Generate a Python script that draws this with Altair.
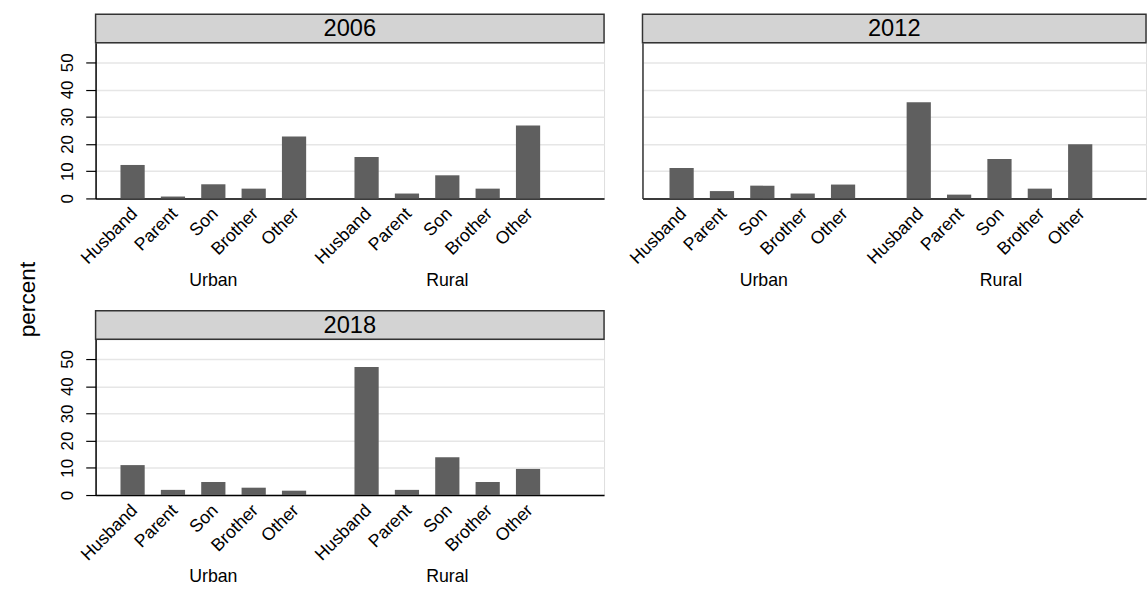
import altair as alt
import pandas as pd

years = ["2006", "2012", "2018"]
areas = ["Urban", "Rural"]
relations = ["Husband", "Parent", "Son", "Brother", "Other"]

pct_2006_urban = [12.3, 0.7, 5.2, 3.6, 22.8]
pct_2006_rural = [15.2, 1.8, 8.5, 3.6, 26.8]
pct_2012_urban = [11.2, 2.7, 4.7, 1.8, 5.1]
pct_2012_rural = [35.3, 1.4, 14.5, 3.6, 19.9]
pct_2018_urban = [11.0, 1.9, 4.8, 2.7, 1.6]
pct_2018_rural = [47.0, 1.9, 13.9, 4.8, 9.6]

series = {
    ("2006", "Urban"): pct_2006_urban,
    ("2006", "Rural"): pct_2006_rural,
    ("2012", "Urban"): pct_2012_urban,
    ("2012", "Rural"): pct_2012_rural,
    ("2018", "Urban"): pct_2018_urban,
    ("2018", "Rural"): pct_2018_rural,
}
rows = []
for yr in years:
    for ar in areas:
        for rel, v in zip(relations, series[(yr, ar)]):
            rows.append({"year": yr, "area": ar, "relation": rel, "percent": v})
df = pd.DataFrame(rows)

H, HEAD = 158, 29
FONT = "Liberation Sans"


def panel(yr, width, show_y, pad_in, pad_out, align):
    data = df[df["year"] == yr]
    x_enc = alt.X(
        "area:N", sort=areas,
        scale=alt.Scale(paddingInner=pad_in, paddingOuter=pad_out, align=align),
        axis=alt.Axis(title=None, labelAngle=0, ticks=False, labelPadding=74,
                      labelFontSize=18, grid=False,
                      domainColor="#000000", domainWidth=1.5),
    )
    xoff = alt.XOffset("relation:N", sort=relations,
                       scale=alt.Scale(paddingInner=0.4, paddingOuter=0.3))
    if show_y:
        yaxis = alt.Axis(title=None, values=[0, 10, 20, 30, 40, 50], labelAngle=-90,
                         labelAlign="center", labelBaseline="bottom", labelFontSize=17,
                         labelPadding=9, tickSize=10, tickColor="#000000", tickWidth=1.2,
                         domainColor="#000000", domainWidth=1.5,
                         gridColor="#e6e6e6", gridWidth=1.5)
    else:
        yaxis = alt.Axis(title=None, values=[0, 10, 20, 30, 40, 50], labels=False,
                         ticks=False, domainColor="#333333", domainWidth=1.5,
                         gridColor="#e6e6e6", gridWidth=1.5)
    y_enc = alt.Y("percent:Q", scale=alt.Scale(domain=[0, 57.2], nice=False), axis=yaxis)

    bars = alt.Chart(data).mark_bar(color="#5f5f5f").encode(x=x_enc, xOffset=xoff, y=y_enc)
    labels = alt.Chart(data).mark_text(
        angle=315, align="right", baseline="middle", fontSize=18, font=FONT,
        color="#000000", dx=0, dy=3
    ).encode(x=x_enc, xOffset=xoff, text="relation:N", y=alt.value(H + 11))
    head = pd.DataFrame({"year": [yr]})
    head_rect = alt.Chart(head).mark_rect(
        fill="#d3d3d3", stroke="#333333", strokeWidth=1.5
    ).encode(x=alt.value(0), x2=alt.value(width), y=alt.value(-HEAD), y2=alt.value(0))
    head_text = alt.Chart(head).mark_text(
        fontSize=24, font=FONT, color="#000000", baseline="middle", align="center"
    ).encode(x=alt.value(width / 2), y=alt.value(-HEAD / 2 + 1), text="year:N")
    return alt.layer(head_rect, head_text, bars, labels).properties(width=width, height=H)


p2006 = panel("2006", 516, True, 0.103, 0.138, 0.198)
p2012 = panel("2012", 511, False, 0.1026, 0.113, 0.278)
p2018 = panel("2018", 516, True, 0.103, 0.138, 0.198)

top = alt.hconcat(p2006, p2012, spacing=21)
chart = alt.vconcat(top, p2018, spacing=19).properties(
    title=alt.TitleParams("percent", orient="left", anchor="middle", fontSize=23,
                          fontWeight="normal", font=FONT, color="#000000", offset=19),
    padding={"left": 17, "top": 8, "right": 0, "bottom": 0},
).configure_view(stroke="#333333", strokeWidth=1.5).configure(font=FONT).configure_axis(
    labelColor="#000000", labelFont=FONT
)

chart.save("out.html", embed_options={"renderer": "svg", "actions": False})
